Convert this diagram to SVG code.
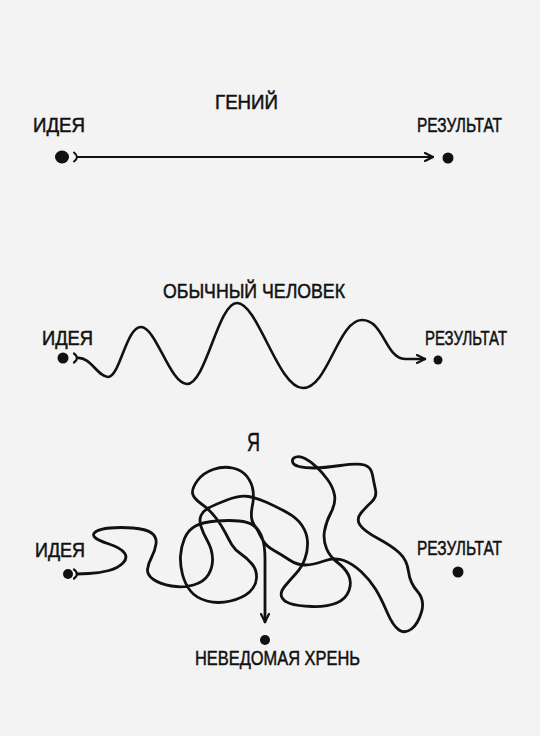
<svg xmlns="http://www.w3.org/2000/svg" width="540" height="736" viewBox="0 0 540 736">
<style>
.lbl{font-family:"Liberation Sans","DejaVu Sans",sans-serif;font-size:20px;fill:#111;stroke:#111;stroke-width:0.5}
.ln{fill:none;stroke:#111;stroke-linecap:round;stroke-linejoin:round}
.dot{fill:#111}
</style>
<defs>
<marker id="ah" viewBox="0 0 10 10" refX="9" refY="5" markerWidth="10" markerHeight="10" markerUnits="userSpaceOnUse" orient="auto">
<path d="M1,1 L9,5 L1,9" fill="none" stroke="#111" stroke-width="2.2" stroke-linecap="round" stroke-linejoin="round"/>
</marker>
</defs>
<rect width="540" height="736" fill="#f3f3f3"/>

<g id="title-genius"><text class="lbl" x="215" y="109" textLength="63" lengthAdjust="spacingAndGlyphs">ГЕНИЙ</text></g>
<g id="idea-1"><text class="lbl" x="33" y="132" textLength="52" lengthAdjust="spacingAndGlyphs">ИДЕЯ</text><ellipse class="dot" cx="62" cy="157" rx="7" ry="6.5"/></g>
<g id="result-1"><text class="lbl" x="417" y="132" textLength="85" lengthAdjust="spacingAndGlyphs">РЕЗУЛЬТАТ</text><circle class="dot" cx="448" cy="158" r="5.5"/></g>

<g id="title-ordinary"><text class="lbl" x="163" y="298" textLength="182" lengthAdjust="spacingAndGlyphs">ОБЫЧНЫЙ ЧЕЛОВЕК</text></g>
<g id="idea-2"><text class="lbl" x="42" y="345" textLength="51" lengthAdjust="spacingAndGlyphs">ИДЕЯ</text><circle class="dot" cx="63" cy="358" r="5.5"/></g>
<g id="result-2"><text class="lbl" x="425" y="345" textLength="82" lengthAdjust="spacingAndGlyphs">РЕЗУЛЬТАТ</text><circle class="dot" cx="438" cy="360" r="4.5"/></g>

<g id="title-me"><text class="lbl" x="247" y="451" textLength="13" lengthAdjust="spacingAndGlyphs" style="font-size:26px">Я</text></g>
<g id="idea-3"><text class="lbl" x="35" y="557" textLength="50" lengthAdjust="spacingAndGlyphs">ИДЕЯ</text><circle class="dot" cx="68" cy="574" r="5"/></g>
<g id="result-3"><text class="lbl" x="417" y="555" textLength="85" lengthAdjust="spacingAndGlyphs">РЕЗУЛЬТАТ</text><circle class="dot" cx="458" cy="572" r="5.5"/></g>
<g id="unknown"><circle class="dot" cx="265" cy="640" r="5"/><text class="lbl" x="195" y="665" textLength="165" lengthAdjust="spacingAndGlyphs" style="font-size:21px">НЕВЕДОМАЯ ХРЕНЬ</text></g>

<g id="connectors">
<path class="ln" stroke-width="2" d="M74,152.5 Q80,157 74,161.5"/>
<path class="ln" stroke-width="2.2" d="M77,157 L433,157" marker-end="url(#ah)"/>

<path class="ln" stroke-width="2.2" d="M74,353.5 Q80,358 74,362.5"/>
<path class="ln" stroke-width="2.6" d="M77,358 C90,356 98,377 108,377 C120,377 126,327 141,327 C156,327 170,384 187,384 C206,384 218,303 237,303 C258,303 278,388 303,388 C328,388 338,320 362,320 C384,320 385,358 405,359 L425,359" marker-end="url(#ah)"/>

<path class="ln" stroke-width="2.2" d="M74,569.5 Q80,574 74,578.5"/>
<path class="ln" stroke-width="2.8" d="M77,574 L88.5,573.5 Q100,573 109,570.5 Q118,568 123,563 Q128,558 124.5,553 Q121,548 109,544 Q97,540 94.5,537 Q92,534 96,531.5 Q100,529 110,528 Q120,527 133,528 Q146,529 151.5,533 Q157,537 156,544 Q155,551 151.5,557.5 Q148,564 147.5,569.5 Q147,575 153.5,579.5 Q160,584 171.5,586 Q183,588 193.5,585 Q204,582 208.5,574.5 Q213,567 212.5,558 Q212,549 207.5,541 Q203,533 201,526.5 Q199,520 201,515.5 Q203,511 208.5,508 Q214,505 227,500 Q240,495 248.5,496.5 Q257,498 267,502.5 Q277,507 287,512.5 Q297,518 302,525.5 Q307,533 307.5,541.5 Q308,550 305,558.5 Q302,567 296,573.5 Q290,580 285,586 Q280,592 281.5,596.5 Q283,601 290,603.5 Q297,606 312,606.5 Q327,607 336.5,603 Q346,599 349,590.5 Q352,582 348.5,575 Q345,568 337.5,562.5 Q330,557 326.5,548.5 Q323,540 324.5,531 Q326,522 331,512.5 Q336,503 334.5,495 Q333,487 327.5,479.5 Q322,472 316,466.5 Q310,461 305,458.5 Q300,456 296,457 Q292,458 292.5,461.5 Q293,465 299,466.5 Q305,468 314,468 Q323,468 340.5,465.5 Q358,463 364.5,465 Q371,467 372.5,475 Q374,483 375.5,490 Q377,497 371.5,502 Q366,507 361,513 Q356,519 360,525 Q364,531 378,538.5 Q392,546 399.5,553 Q407,560 408.5,571.5 Q410,583 417.5,591.5 Q425,600 421.5,612 Q418,624 411.5,629 Q405,634 399,630 Q393,626 387,612 Q381,598 375.5,589 Q370,580 361.5,572 Q353,564 344,560.5 Q335,557 324,561 Q313,565 305,565 Q297,565 289.5,560 Q282,555 274,550.5 Q266,546 263,540.5 Q260,535 258,531 Q256,527 252,524.5 Q248,522 239,521 Q230,520 216.5,521 Q203,522 195.5,526 Q188,530 184.5,538.5 Q181,547 180.5,556 Q180,565 182.5,574.5 Q185,584 190.5,591 Q196,598 207,601 Q218,604 230.5,601 Q243,598 249.5,592 Q256,586 256.5,578 Q257,570 252,564 Q247,558 241,554 Q235,550 232,545 Q229,540 225.5,533 Q222,526 216,518 Q210,510 201.5,504 Q193,498 192.5,493 Q192,488 197.5,480.5 Q203,473 213,469.5 Q223,466 232.5,468 Q242,470 247,476.5 Q252,483 253,490.5 Q254,498 252.5,505 Q251,512 251.5,517.5 Q252,523 256.5,528 Q261,533 263,540.5 Q265,548 265,559 Q265,570 265,580 L265,622" marker-end="url(#ah)"/>
</g>
</svg>
